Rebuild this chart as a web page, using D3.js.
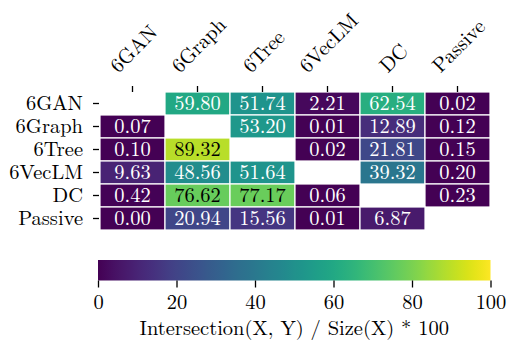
<!DOCTYPE html>
<html>
<head>
<meta charset="utf-8">
<script src="https://cdn.jsdelivr.net/npm/d3@7"></script>
<style>
  html, body { margin: 0; padding: 0; background: #fff; }
</style>
</head>
<body>
<svg id="chart" width="508" height="342"></svg>
<script>
// Source sets (rows = X) and target sets (columns = Y)
const sources = ["6GAN", "6Graph", "6Tree", "6VecLM", "DC", "Passive"];
const targets = ["6GAN", "6Graph", "6Tree", "6VecLM", "DC", "Passive"];

// Intersection(X, Y) / Size(X) * 100; null on the diagonal
const row6GAN    = [null, 59.80, 51.74, 2.21, 62.54, 0.02];
const row6Graph  = [0.07, null, 53.20, 0.01, 12.89, 0.12];
const row6Tree   = [0.10, 89.32, null, 0.02, 21.81, 0.15];
const row6VecLM  = [9.63, 48.56, 51.64, null, 39.32, 0.20];
const rowDC      = [0.42, 76.62, 77.17, 0.06, null, 0.23];
const rowPassive = [0.00, 20.94, 15.56, 0.01, 6.87, null];

const colorTicks = [0, 20, 40, 60, 80, 100];
const colorLabel = "Intersection(X, Y) / Size(X) * 100";

const rows = [row6GAN, row6Graph, row6Tree, row6VecLM, rowDC, rowPassive];
const cells = [];
rows.forEach((vals, i) => vals.forEach((v, j) => {
  if (v !== null) cells.push({ src: sources[i], tgt: targets[j], value: v });
}));

const FONT = "20.5px";
const FAMILY = '"Latin Modern Roman", "Liberation Serif", serif';
const svg = d3.select("#chart");

function serif(sel) {
  return sel.style("font-family", FAMILY).style("font-size", FONT);
}

const grid = { left: 100, right: 490, top: 92, bottom: 230 };
const x = d3.scaleBand().domain(targets).range([grid.left, grid.right]);
const y = d3.scaleBand().domain(sources).range([grid.top, grid.bottom]);
const color = d3.scaleSequential(d3.interpolateViridis).domain([0, 100]);

// Pick black or white annotation text from the cell's relative luminance
function textColor(c) {
  const rgb = d3.rgb(c);
  const lin = [rgb.r, rgb.g, rgb.b].map(u => {
    u /= 255;
    return u <= 0.03928 ? u / 12.92 : Math.pow((u + 0.055) / 1.055, 2.4);
  });
  const lum = 0.2126 * lin[0] + 0.7152 * lin[1] + 0.0722 * lin[2];
  return lum > 0.408 ? "#000" : "#fff";
}

// Heatmap cells
const cellG = svg.append("g");
cellG.selectAll("rect")
  .data(cells)
  .join("rect")
  .attr("x", d => x(d.tgt))
  .attr("y", d => y(d.src))
  .attr("width", x.bandwidth())
  .attr("height", y.bandwidth())
  .attr("fill", d => color(d.value))
  .attr("stroke", "#fff")
  .attr("stroke-width", 1.2);

cellG.selectAll("text")
  .data(cells)
  .join("text")
  .attr("x", d => x(d.tgt) + x.bandwidth() / 2)
  .attr("y", d => y(d.src) + y.bandwidth() / 2)
  .attr("text-anchor", "middle")
  .attr("dy", "0.33em")
  .attr("fill", d => textColor(color(d.value)))
  .call(serif)
  .text(d => d.value.toFixed(2));

// Left axis: source names
const yAxis = svg.append("g")
  .attr("transform", `translate(${grid.left - 1},0)`)
  .call(d3.axisLeft(y).tickSize(6).tickPadding(10));
yAxis.select(".domain").remove();
yAxis.selectAll(".tick line").attr("stroke", "#000").attr("stroke-width", 1.3);
yAxis.selectAll(".tick text")
  .attr("fill", "#000")
  .attr("dy", "0.33em")
  .call(serif);

// Top axis: target names, rotated 45 degrees and centred over each tick
const xAxis = svg.append("g")
  .attr("transform", `translate(0,${grid.top})`)
  .call(d3.axisTop(x).tickSize(6));
xAxis.select(".domain").remove();
xAxis.selectAll(".tick line").attr("stroke", "#000").attr("stroke-width", 1.3);
xAxis.selectAll(".tick text").remove();

const labelBottom = 78 - grid.top;
xAxis.selectAll(".tick").each(function () {
  const tick = d3.select(this);
  const name = tick.datum();
  const holder = tick.append("g");
  holder.append("text")
    .attr("fill", "#000")
    .attr("text-anchor", "start")
    .attr("transform", "rotate(-45)")
    .call(serif)
    .text(name);
  const bb = holder.node().getBBox();
  const dx = -(bb.x + bb.width / 2);
  const dy = labelBottom - (bb.y + bb.height);
  holder.attr("transform", `translate(${dx},${dy})`);
});

// Colorbar
const cb = { left: 98, right: 490.5, top: 260, bottom: 280.5 };
const defs = svg.append("defs");
const grad = defs.append("linearGradient").attr("id", "viridis-grad")
  .attr("x1", "0%").attr("x2", "100%").attr("y1", "0%").attr("y2", "0%");
d3.range(0, 1.0001, 0.02).forEach(t => {
  grad.append("stop")
    .attr("offset", `${t * 100}%`)
    .attr("stop-color", d3.interpolateViridis(t));
});
svg.append("rect")
  .attr("x", cb.left).attr("y", cb.top)
  .attr("width", cb.right - cb.left).attr("height", cb.bottom - cb.top)
  .attr("fill", "url(#viridis-grad)");

const cbScale = d3.scaleLinear().domain([0, 100]).range([cb.left, cb.right]);
const cbAxis = svg.append("g")
  .attr("transform", `translate(0,${cb.bottom})`)
  .call(d3.axisBottom(cbScale).tickValues(colorTicks).tickSize(7).tickPadding(7)
    .tickFormat(d3.format("d")));
cbAxis.select(".domain").remove();
cbAxis.selectAll(".tick line").attr("stroke", "#000").attr("stroke-width", 1.3);
cbAxis.selectAll(".tick text")
  .attr("fill", "#000")
  .call(serif);

svg.append("text")
  .attr("x", (cb.left + cb.right) / 2)
  .attr("y", 335)
  .attr("text-anchor", "middle")
  .attr("fill", "#000")
  .call(serif)
  .text(colorLabel);
</script>
</body>
</html>
